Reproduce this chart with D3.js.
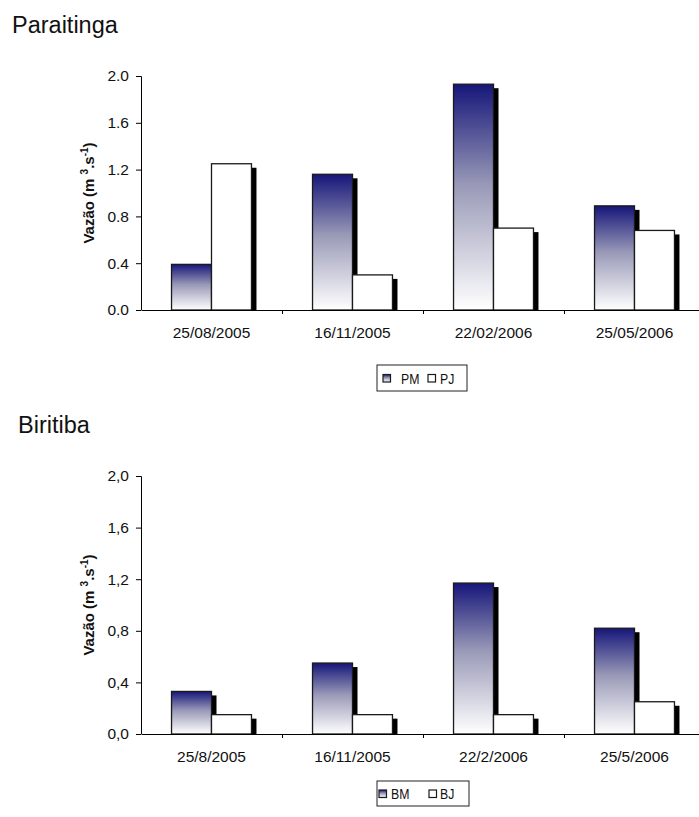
<!DOCTYPE html>
<html>
<head>
<meta charset="utf-8">
<script src="https://cdn.jsdelivr.net/npm/d3@7"></script>
<style>
  body { margin: 0; background: #fff; }
  svg { display: block; }
  text { font-family: "Liberation Sans", Arial, sans-serif; fill: #111; }
</style>
</head>
<body>
<svg></svg>
<script>
// values
const datesParaitinga = ["25/08/2005", "16/11/2005", "22/02/2006", "25/05/2006"];
const pmValues = [0.39, 1.16, 1.93, 0.89];
const pjValues = [1.25, 0.30, 0.70, 0.68];

const datesBiritiba = ["25/8/2005", "16/11/2005", "22/2/2006", "25/5/2006"];
const bmValues = [0.33, 0.55, 1.17, 0.82];
const bjValues = [0.15, 0.15, 0.15, 0.25];

const yTicks = [0, 0.4, 0.8, 1.2, 1.6, 2.0];

const width = 699;
const height = 817;

const svg = d3.select("svg")
  .attr("width", width)
  .attr("height", height);

const defs = svg.append("defs");
const grad = defs.append("linearGradient")
  .attr("id", "navyFade")
  .attr("x1", 0).attr("y1", 0)
  .attr("x2", 0).attr("y2", 1);
grad.append("stop").attr("offset", "0%").attr("stop-color", "#16167a");
grad.append("stop").attr("offset", "45%").attr("stop-color", "#9a9ab8");
grad.append("stop").attr("offset", "100%").attr("stop-color", "#ffffff");

const fills = ["url(#navyFade)", "#ffffff"];

const drawPanel = (opt) => {
  const graphWidth = 564;
  const graphHeight = opt.bottom - opt.top;

  const g = svg.append("g")
    .attr("transform", `translate(${opt.left}, ${opt.top})`);

  svg.append("text")
    .attr("x", opt.titleX)
    .attr("y", opt.titleY)
    .attr("font-size", 23.5)
    .text(opt.title);

  const pad = 0.433;
  const xScale = d3.scaleBand()
    .domain(opt.dates)
    .range([0, graphWidth])
    .paddingInner(pad)
    .paddingOuter(pad / 2);

  const xSub = d3.scaleBand()
    .domain([0, 1])
    .range([0, xScale.bandwidth()]);

  const yScale = d3.scaleLinear()
    .domain([0, 2])
    .range([graphHeight, 0]);

  // bars with drop shadow
  const rows = opt.dates.map((d, i) => ({
    date: d,
    vals: [opt.series[0][i], opt.series[1][i]]
  }));

  const groups = g.selectAll(".cat")
    .data(rows)
    .enter().append("g")
      .attr("class", "cat")
      .attr("transform", d => `translate(${xScale(d.date)}, 0)`);

  groups.each(function(d) {
    const grp = d3.select(this);
    d.vals.forEach((v, k) => {
      const x = xSub(k);
      const y = yScale(v);
      const w = xSub.bandwidth();
      const h = graphHeight - y;
      grp.append("rect")
        .attr("x", x + 5)
        .attr("y", y + 4)
        .attr("width", w)
        .attr("height", Math.max(0, h - 4))
        .attr("fill", "#000");
      grp.append("rect")
        .attr("x", x)
        .attr("y", y)
        .attr("width", w)
        .attr("height", h)
        .attr("fill", fills[k])
        .attr("stroke", "#1a1a1a")
        .attr("stroke-width", 1.3);
    });
  });

  // y axis
  const yAxis = d3.axisLeft(yScale)
    .tickValues(yTicks)
    .tickSize(5)
    .tickPadding(7)
    .tickFormat(n => d3.format(".1f")(n).replace(".", opt.decimal));
  const yAxisGroup = g.append("g").call(yAxis);
  yAxisGroup.select(".domain").attr("stroke", "#000").attr("d", `M-5,0.5H0.5V${graphHeight}`);
  yAxisGroup.selectAll("text")
    .attr("font-size", 15.5)
    .attr("font-family", "Liberation Sans, Arial, sans-serif")
    .attr("fill", "#111");

  // x axis
  const xAxis = d3.axisBottom(xScale)
    .tickSize(0)
    .tickPadding(17);
  const xAxisGroup = g.append("g")
    .attr("transform", `translate(0, ${graphHeight})`)
    .call(xAxis);
  xAxisGroup.select(".domain").attr("stroke", "#000");
  xAxisGroup.selectAll("text")
    .attr("font-size", 15.5)
    .attr("font-family", "Liberation Sans, Arial, sans-serif")
    .attr("fill", "#111");
  xAxisGroup.selectAll(".sep")
    .data(d3.range(1, opt.dates.length))
    .enter().append("line")
      .attr("class", "sep")
      .attr("x1", i => xScale.step() * i + 0.5)
      .attr("x2", i => xScale.step() * i + 0.5)
      .attr("y1", 0)
      .attr("y2", 4)
      .attr("stroke", "#000");

  // y axis title
  const yt = g.append("text")
    .attr("transform", `translate(${opt.left - 141 - 47}, ${graphHeight / 2}) rotate(-90)`)
    .attr("text-anchor", "middle")
    .attr("font-size", 15)
    .attr("font-weight", "bold");
  yt.append("tspan").text("Vazão (m ");
  yt.append("tspan").attr("font-size", 10).attr("dy", -6).text("3");
  yt.append("tspan").attr("dy", 6).text(".s");
  yt.append("tspan").attr("font-size", 10).attr("dy", -6).text("-1");
  yt.append("tspan").attr("dy", 6).text(")");

  // legend
  const lg = svg.append("g")
    .attr("transform", `translate(${opt.legend.x}, ${opt.legend.y})`);
  lg.append("rect")
    .attr("width", opt.legend.w)
    .attr("height", opt.legend.h)
    .attr("fill", "#fff")
    .attr("stroke", "#222")
    .attr("stroke-width", 1);
  opt.names.forEach((name, k) => {
    const item = lg.append("g")
      .attr("transform", `translate(${opt.legend.items[k]}, 0)`);
    item.append("rect")
      .attr("x", 0)
      .attr("y", opt.legend.h / 2 - 3.5)
      .attr("width", 7.5)
      .attr("height", 7.5)
      .attr("fill", fills[k])
      .attr("stroke", "#1a1a1a")
      .attr("stroke-width", 1.2);
    item.append("text")
      .attr("transform", `translate(${opt.legend.textDx[k]}, ${opt.legend.h / 2 + 5.5}) scale(0.82, 1)`)
      .attr("font-size", 15)
      .text(name);
  });
};

drawPanel({
  title: "Paraitinga", titleX: 12, titleY: 33,
  left: 141, top: 76, bottom: 310,
  dates: datesParaitinga,
  series: [pmValues, pjValues],
  names: ["PM", "PJ"],
  decimal: ".",
  legend: { x: 377, y: 365, w: 90, h: 26, items: [6, 51], textDx: [18, 12] }
});

drawPanel({
  title: "Biritiba", titleX: 18, titleY: 433,
  left: 141, top: 476, bottom: 734,
  dates: datesBiritiba,
  series: [bmValues, bjValues],
  names: ["BM", "BJ"],
  decimal: ",",
  legend: { x: 377, y: 781, w: 92, h: 25, items: [2, 52], textDx: [12, 11] }
});
</script>
</body>
</html>
